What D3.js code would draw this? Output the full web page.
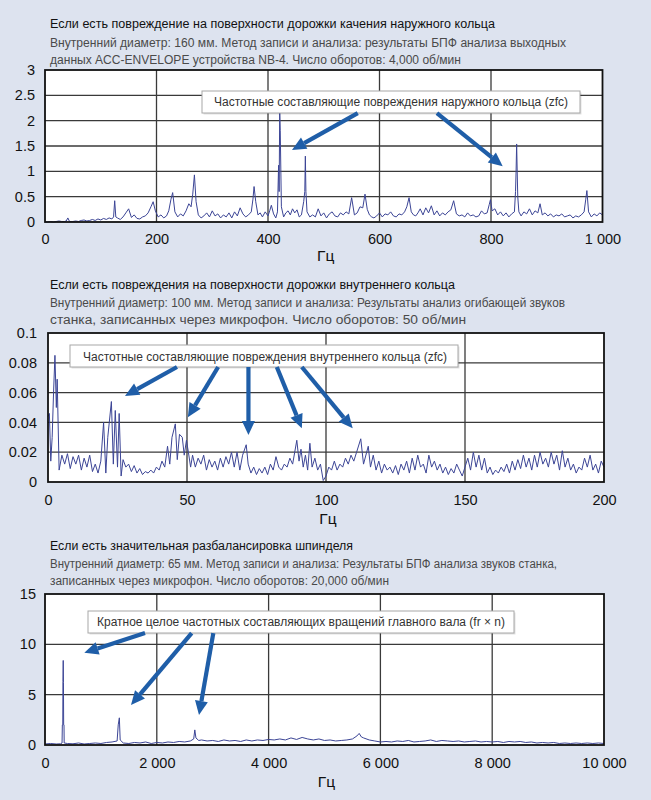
<!DOCTYPE html>
<html><head><meta charset="utf-8">
<script src="https://cdn.jsdelivr.net/npm/d3@7"></script>
<style>body{margin:0;background:#dde3ef;}svg{display:block}</style>
</head><body><svg id="c" width="651" height="800"></svg>
<script>
// ---------- DATA ----------
const outerTitle = "Если есть повреждение на поверхности дорожки качения наружного кольца";
const outerSub = ["Внутренний диаметр: 160 мм. Метод записи и анализа: результаты БПФ анализа  выходных",
                  "данных ACC-ENVELOPE устройства NB-4. Число оборотов: 4,000 об/мин"];
const outerNote = "Частотные составляющие повреждения наружного кольца (zfc)";
const outerXTicks = [0,200,400,600,800,1000];
const outerXLabels = ["0","200","400","600","800","1 000"];
const outerYTicks = [0,0.5,1,1.5,2,2.5,3];
const outerYLabels = ["0","0.5","1","1.5","2","2.5","3"];
const outerSpectrum = [[0,0.0],[5,0.0],[10,0.01],[15,0.0],[20,0.01],[25,0.02],[30,0.01],[35,0.01],[38,0.02],[41,0.08],[44,0.01],[50,0.01],[55,0.02],[60,0.01],[65,0.03],[70,0.04],[75,0.02],[80,0.03],[85,0.05],[90,0.03],[95,0.06],[100,0.04],[105,0.07],[110,0.05],[115,0.08],[120,0.06],[123,0.1],[125,0.42],[127,0.1],[130,0.08],[135,0.05],[140,0.10],[145,0.18],[150,0.26],[155,0.09],[160,0.14],[165,0.07],[170,0.06],[175,0.10],[180,0.12],[185,0.18],[190,0.30],[194,0.40],[198,0.22],[203,0.10],[208,0.14],[213,0.08],[218,0.12],[222,0.22],[226,0.45],[229,0.58],[233,0.20],[238,0.10],[243,0.16],[248,0.12],[253,0.22],[258,0.36],[262,0.30],[265,0.55],[268,0.93],[271,0.40],[275,0.14],[280,0.08],[285,0.12],[290,0.18],[295,0.10],[300,0.22],[305,0.12],[310,0.16],[315,0.08],[320,0.14],[325,0.10],[330,0.18],[335,0.08],[340,0.20],[345,0.12],[350,0.28],[355,0.16],[360,0.10],[365,0.14],[370,0.20],[373,0.45],[375,0.70],[378,0.40],[382,0.14],[386,0.18],[390,0.10],[395,0.20],[400,0.12],[403,0.22],[406,0.33],[410,0.16],[414,0.08],[417,0.20],[419,1.12],[420,0.6],[421,2.20],[422,1.8],[424,0.3],[428,0.10],[432,0.18],[436,0.22],[440,0.14],[444,0.26],[448,0.18],[452,0.24],[456,0.10],[460,0.14],[464,0.4],[466,0.6],[467,1.30],[468,0.6],[470,0.20],[475,0.10],[480,0.14],[485,0.10],[490,0.26],[495,0.12],[500,0.18],[505,0.08],[510,0.16],[515,0.20],[520,0.12],[525,0.10],[530,0.18],[535,0.14],[540,0.20],[545,0.16],[550,0.48],[555,0.14],[560,0.18],[565,0.30],[570,0.28],[574,0.55],[578,0.25],[582,0.14],[586,0.10],[590,0.08],[595,0.12],[600,0.18],[605,0.10],[610,0.16],[615,0.14],[620,0.20],[625,0.12],[630,0.10],[635,0.16],[640,0.14],[645,0.20],[649,0.30],[653,0.48],[657,0.20],[661,0.14],[665,0.12],[669,0.18],[673,0.26],[678,0.14],[683,0.28],[688,0.18],[693,0.32],[698,0.14],[703,0.22],[708,0.12],[713,0.18],[718,0.14],[723,0.20],[728,0.24],[733,0.42],[738,0.16],[743,0.12],[748,0.14],[753,0.10],[758,0.18],[763,0.12],[768,0.14],[773,0.10],[778,0.12],[783,0.22],[788,0.16],[793,0.18],[797,0.35],[799,0.44],[802,0.22],[807,0.26],[812,0.14],[817,0.20],[822,0.12],[827,0.18],[832,0.10],[837,0.16],[842,0.20],[844,0.6],[845,1.0],[846,1.54],[847,1.0],[848,0.5],[850,0.2],[854,0.12],[859,0.20],[864,0.16],[869,0.26],[874,0.14],[879,0.22],[884,0.18],[888,0.36],[892,0.14],[897,0.18],[902,0.12],[907,0.16],[912,0.10],[917,0.14],[922,0.12],[927,0.16],[932,0.10],[937,0.12],[942,0.14],[947,0.08],[952,0.12],[957,0.10],[962,0.14],[967,0.20],[970,0.45],[972,0.62],[975,0.20],[980,0.10],[985,0.16],[990,0.12],[995,0.18],[1000,0.14]];
// arrows: [tailF, tailV, tipF, tipV]
const outerArrows = [[561,2.15,443,1.42],[703,2.15,821,1.10]];

const innerTitle = "Если есть повреждения на поверхности дорожки внутреннего кольца";
const innerSub = ["Внутренний диаметр: 100 мм. Метод записи и анализа: Результаты анализ огибающей звуков",
                  "станка, записанных через микрофон. Число оборотов: 50 об/мин"];
const innerNote = "Частотные составляющие повреждения внутреннего кольца (zfc)";
const innerXTicks = [0,50,100,150,200];
const innerXLabels = ["0","50","100","150","200"];
const innerYTicks = [0,0.02,0.04,0.06,0.08,0.1];
const innerYLabels = ["0","0.02","0.04","0.06","0.08","0.1"];
const innerSpectrum = [[0,0.044],[0.5,0.046],[1,0.014],[1.5,0.03],[2,0.06],[2.5,0.085],[3,0.05],[3.3,0.069],[4,0.008],[5,0.018],[6,0.012],[7,0.019],[8,0.009],[9,0.017],[10,0.012],[11,0.018],[12,0.008],[13,0.016],[14,0.010],[15,0.018],[16,0.007],[17,0.012],[18,0.006],[19,0.014],[20,0.040],[20.8,0.006],[21.5,0.030],[22.8,0.054],[23.5,0.012],[24.2,0.048],[25,0.010],[25.6,0.046],[26.3,0.004],[27,0.015],[28,0.010],[29,0.012],[30,0.007],[31,0.011],[32,0.006],[33,0.009],[34,0.005],[35,0.007],[36,0.006],[37,0.008],[38,0.006],[39,0.010],[40,0.008],[41,0.014],[42,0.010],[43,0.024],[43.8,0.012],[44.6,0.030],[45.8,0.039],[46.5,0.015],[47.3,0.032],[48.3,0.030],[49,0.018],[49.8,0.028],[50.5,0.020],[51.3,0.010],[52,0.018],[53,0.010],[54,0.016],[55,0.012],[56,0.018],[57,0.008],[58,0.015],[59,0.010],[60,0.014],[61,0.008],[62,0.016],[63,0.010],[64,0.017],[65,0.012],[66,0.020],[67,0.010],[68,0.020],[69,0.008],[70,0.018],[71.3,0.025],[72,0.012],[73,0.006],[74,0.010],[75,0.005],[76,0.009],[77,0.006],[78,0.010],[79,0.005],[80,0.012],[81,0.008],[82,0.017],[83,0.010],[84,0.008],[85,0.012],[86,0.010],[87,0.016],[88,0.012],[89.5,0.028],[90.3,0.014],[91,0.022],[91.8,0.010],[92.6,0.018],[93.4,0.008],[94.2,0.026],[95,0.010],[96,0.016],[97,0.008],[98,0.012],[99,0.001],[100,0.004],[101,0.010],[102,0.008],[103,0.014],[104,0.008],[105,0.012],[106,0.010],[107,0.016],[108,0.012],[109,0.018],[110,0.014],[111,0.020],[112.5,0.029],[113.5,0.012],[115.2,0.024],[116,0.010],[117,0.018],[118,0.008],[119,0.014],[120,0.006],[121,0.012],[122,0.008],[123,0.010],[124,0.006],[125,0.011],[126,0.005],[127,0.012],[128,0.008],[129,0.014],[130,0.006],[131,0.016],[132,0.008],[133,0.018],[134,0.010],[135,0.012],[136,0.006],[137,0.018],[138,0.010],[139,0.014],[140,0.008],[141,0.012],[142,0.006],[143,0.010],[144,0.005],[145,0.009],[146,0.006],[147,0.012],[148,0.008],[149,0.004],[150,0.010],[151,0.016],[152,0.008],[153,0.020],[154,0.010],[155,0.018],[156,0.008],[157,0.016],[158,0.006],[159,0.010],[160,0.005],[161,0.008],[162,0.006],[163,0.010],[164,0.007],[165,0.012],[166,0.006],[167,0.014],[168,0.008],[169,0.015],[170,0.009],[171,0.018],[172,0.010],[173,0.016],[174,0.008],[175,0.018],[176,0.010],[177,0.020],[178,0.012],[179,0.016],[180,0.010],[181,0.020],[182,0.012],[183,0.018],[184,0.008],[185,0.021],[186,0.010],[187,0.016],[188,0.008],[189,0.012],[190,0.006],[191,0.010],[192,0.008],[193,0.016],[194,0.010],[195,0.018],[196,0.008],[197,0.012],[198,0.006],[199,0.014],[200,0.010]];
const innerArrows = [[46.4,0.0772,27.7,0.0577],[61.2,0.0772,50.3,0.0434],[72.1,0.0772,72.1,0.0315],[82.3,0.0772,91.3,0.036],[91.3,0.0772,109.6,0.036]];

const spindleTitle = "Если есть значительная разбалансировка шпинделя";
const spindleSub = ["Внутренний диаметр: 65 мм. Метод записи и анализа: Результаты БПФ анализа звуков станка,",
                    "записанных через микрофон. Число оборотов: 20,000 об/мин"];
const spindleNote = "Кратное целое частотных составляющих вращений главного вала (fr × n)";
const spindleXTicks = [0,2000,4000,6000,8000,10000];
const spindleXLabels = ["0","2 000","4 000","6 000","8 000","10 000"];
const spindleYTicks = [0,5,10,15];
const spindleYLabels = ["0","5","10","15"];
const spindleSpectrum = [[0,0.1],[100,0.15],[200,0.1],[280,0.12],[305,0.2],[310,2.0],[318,2.0],[321,6.3],[326,8.4],[330,6.2],[334,2.0],[340,2.0],[343,0.2],[400,0.15],[500,0.12],[600,0.2],[700,0.1],[800,0.15],[900,0.2],[1000,0.15],[1100,0.25],[1200,0.3],[1290,0.4],[1310,2.0],[1330,2.7],[1345,0.5],[1400,0.2],[1500,0.15],[1600,0.25],[1700,0.2],[1800,0.3],[1900,0.15],[2000,0.25],[2100,0.2],[2200,0.3],[2300,0.25],[2400,0.35],[2500,0.3],[2600,0.4],[2660,0.6],[2680,1.5],[2700,0.7],[2750,0.45],[2800,0.5],[2900,0.4],[3000,0.45],[3100,0.35],[3200,0.5],[3300,0.4],[3400,0.45],[3500,0.35],[3600,0.5],[3700,0.4],[3800,0.5],[3900,0.45],[4000,0.55],[4100,0.5],[4200,0.6],[4300,0.5],[4400,0.7],[4500,0.55],[4600,0.75],[4700,0.6],[4800,0.5],[4900,0.6],[5000,0.45],[5100,0.5],[5200,0.4],[5300,0.45],[5400,0.5],[5500,0.6],[5580,0.9],[5620,1.15],[5660,0.8],[5700,0.7],[5800,0.5],[5900,0.4],[6000,0.3],[6100,0.35],[6200,0.3],[6300,0.4],[6400,0.35],[6500,0.45],[6600,0.3],[6700,0.35],[6800,0.4],[6900,0.5],[7000,0.35],[7100,0.45],[7200,0.4],[7300,0.35],[7400,0.4],[7500,0.3],[7600,0.35],[7700,0.4],[7800,0.3],[7900,0.35],[8000,0.3],[8100,0.35],[8200,0.25],[8300,0.35],[8400,0.3],[8500,0.35],[8600,0.25],[8700,0.3],[8800,0.2],[8900,0.25],[9000,0.2],[9100,0.25],[9200,0.15],[9300,0.2],[9400,0.15],[9500,0.2],[9600,0.15],[9700,0.2],[9800,0.15],[9900,0.2],[10000,0.15]];
const spindleArrows = [[1789,11.12,703,9.17],[2624,11.12,1538,3.97],[3011,11.12,2755,2.98]];

const xUnit = "Гц";

// ---------- LAYOUT ----------
const panels = [
  {title:outerTitle, sub:outerSub, note:outerNote, data:outerSpectrum, arrows:outerArrows,
   xd:[0,1000], yd:[0,3], xt:outerXTicks, xl:outerXLabels, yt:outerYTicks, yl:outerYLabels,
   L:45, R:602.5, T:70, B:222, titleY:[28,47,64], titleW:[445,516,411],
   box:{x:202,y:91,w:378,h:22,tx:214,tw:354,ty:106}, xPad:12, yPad:10, unitY:261},
  {title:innerTitle, sub:innerSub, note:innerNote, data:innerSpectrum, arrows:innerArrows,
   xd:[0,200], yd:[0,0.1], xt:innerXTicks, xl:innerXLabels, yt:innerYTicks, yl:innerYLabels,
   L:48, R:604, T:333, B:482, titleY:[289,307,324], titleW:[405,515,416],
   box:{x:70,y:345,w:388,h:22,tx:83,tw:364,ty:360.5}, xPad:13, yPad:11, unitY:524},
  {title:spindleTitle, sub:spindleSub, note:spindleNote, data:spindleSpectrum, arrows:spindleArrows,
   xd:[0,10000], yd:[0,15], xt:spindleXTicks, xl:spindleXLabels, yt:spindleYTicks, yl:spindleYLabels,
   L:45, R:604, T:594, B:745, titleY:[550,568,585], titleW:[303,507,339],
   box:{x:88,y:611,w:426,h:22,tx:97,tw:408,ty:626}, xPad:13, yPad:9, unitY:787}
];

const svg = d3.select("#c");
svg.append("rect").attr("width",651).attr("height",800).attr("fill","#dde3ef");
const FONT = "'Liberation Sans', Arial, sans-serif";
const arrowColor = "#1f5ea8";

panels.forEach(p => {
  const x = d3.scaleLinear().domain(p.xd).range([p.L,p.R]);
  const y = d3.scaleLinear().domain(p.yd).range([p.B,p.T]);
  const g = svg.append("g");

  // titles
  const lines = [p.title].concat(p.sub);
  lines.forEach((t,i) => {
    g.append("text").attr("x",50).attr("y",p.titleY[i]).text(t)
      .attr("font-family",FONT).attr("font-size", 12.5)
      .attr("fill", i===0 ? "#111" : "#4a4a4a")
      .attr("textLength", p.titleW[i]).attr("lengthAdjust","spacingAndGlyphs");
  });

  // plot background
  g.append("rect").attr("x",p.L).attr("y",p.T).attr("width",p.R-p.L).attr("height",p.B-p.T).attr("fill","#fff");

  // grid
  g.selectAll(".gx").data(p.xt.slice(1,-1)).join("line")
    .attr("x1",d=>x(d)).attr("x2",d=>x(d)).attr("y1",p.T).attr("y2",p.B)
    .attr("stroke","#3a3a3a").attr("stroke-width",1.3);
  g.selectAll(".gy").data(p.yt.slice(1,-1)).join("line")
    .attr("y1",d=>y(d)).attr("y2",d=>y(d)).attr("x1",p.L).attr("x2",p.R)
    .attr("stroke","#3a3a3a").attr("stroke-width",1.3);

  // spectrum
  const line = d3.line().x(d=>x(d[0])).y(d=>y(d[1]));
  g.append("path").datum(p.data).attr("d",line).attr("fill","none")
    .attr("stroke","#3c4596").attr("stroke-width",1).attr("stroke-linejoin","round");

  // frame
  g.append("rect").attr("x",p.L).attr("y",p.T).attr("width",p.R-p.L).attr("height",p.B-p.T)
    .attr("fill","none").attr("stroke","#111").attr("stroke-width",1.8);

  // axes
  const ax = g.append("g").attr("transform",`translate(0,${p.B})`)
    .call(d3.axisBottom(x).tickValues(p.xt).tickFormat((d,i)=>p.xl[i]).tickSize(0).tickPadding(p.xPad));
  const ay = g.append("g").attr("transform",`translate(${p.L},0)`)
    .call(d3.axisLeft(y).tickValues(p.yt).tickFormat((d,i)=>p.yl[i]).tickSize(0).tickPadding(p.yPad));
  [ax,ay].forEach(a => {
    a.select(".domain").remove();
    a.selectAll("text").attr("font-family",FONT).attr("font-size",14.5).attr("fill","#111");
  });
  g.append("text").attr("x",(p.L+p.R)/2+2).attr("y",p.unitY).attr("text-anchor","middle")
    .attr("font-family",FONT).attr("font-size",15.5).attr("fill","#111").text(xUnit);

  // annotation box
  const b = p.box;
  g.append("rect").attr("x",b.x+1.5).attr("y",b.y+1.5).attr("width",b.w).attr("height",b.h)
    .attr("fill","#000").attr("opacity",0.12);
  g.append("rect").attr("x",b.x).attr("y",b.y).attr("width",b.w).attr("height",b.h)
    .attr("fill","#fff").attr("stroke","#a8a8a8").attr("stroke-width",1);
  g.append("text").attr("x",b.tx).attr("y",b.ty).text(p.note)
    .attr("font-family",FONT).attr("font-size",12.5).attr("fill","#333")
    .attr("textLength",b.tw).attr("lengthAdjust","spacingAndGlyphs");

  // arrows
  p.arrows.forEach(a => {
    const x1=x(a[0]), y1=y(a[1]), x2=x(a[2]), y2=y(a[3]);
    const ang = Math.atan2(y2-y1,x2-x1);
    const hl = 14, hw = 6.5;
    const bx = x2 - hl*Math.cos(ang), by = y2 - hl*Math.sin(ang);
    g.append("line").attr("x1",x1).attr("y1",y1).attr("x2",bx).attr("y2",by)
      .attr("stroke",arrowColor).attr("stroke-width",4.2);
    const px = -Math.sin(ang)*hw, py = Math.cos(ang)*hw;
    g.append("path").attr("d",`M${x2},${y2}L${bx+px},${by+py}L${bx-px},${by-py}Z`).attr("fill",arrowColor);
  });
});
</script></body></html>
